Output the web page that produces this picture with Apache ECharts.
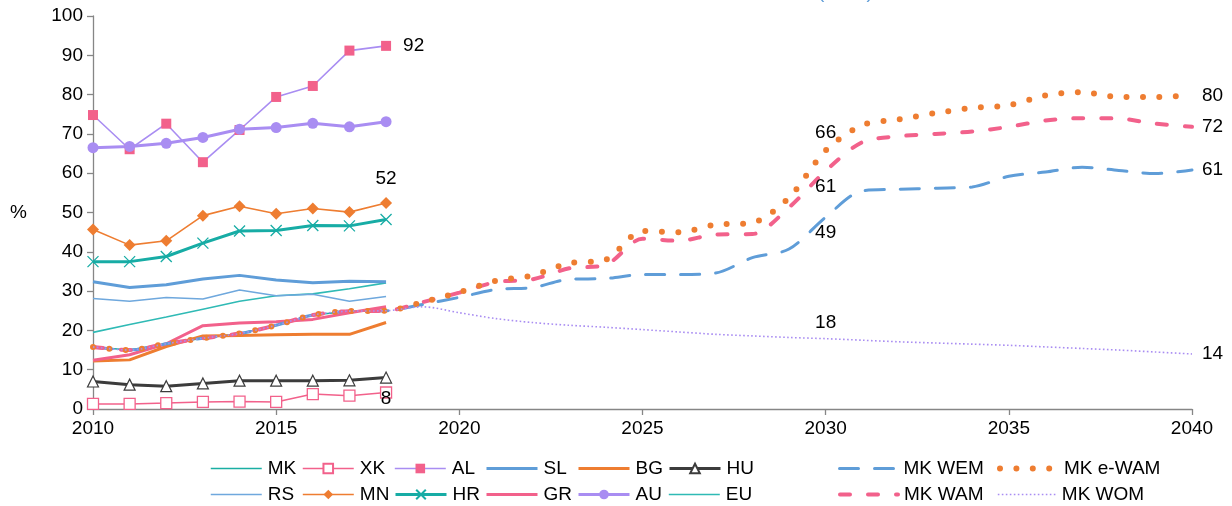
<!DOCTYPE html>
<html><head><meta charset="utf-8">
<script src="https://cdn.jsdelivr.net/npm/echarts@6/dist/echarts.min.js"></script>
<style>html,body{margin:0;padding:0;background:#fff}#c{width:1232px;height:506px}</style>
</head><body><div id="c"></div>
<script>
// ---------- data ----------
const histYears = [2010,2011,2012,2013,2014,2015,2016,2017,2018];
const projYears = [2010,2011,2012,2013,2014,2015,2016,2017,2018,2019,2020,2021,2022,2023,2024,2025,2026,2027,2028,2029,2030,2031,2032,2033,2034,2035,2036,2037,2038,2039,2040];

const MK = [15.8,15.0,16.6,18.0,19.2,21.3,23.9,24.9,25.0];
const XK = [1.3,1.3,1.5,1.8,1.9,1.8,3.8,3.4,4.2];
const AL = [74.8,66.1,72.6,62.8,71.0,79.4,82.2,91.2,92.4];
const SL = [32.4,30.9,31.6,33.1,34.0,32.8,32.1,32.5,32.4];
const BG = [12.2,12.5,15.9,18.6,18.7,18.9,19.0,19.0,22.0];
const HU = [7.0,6.2,5.8,6.5,7.2,7.2,7.2,7.3,8.0];
const RS = [28.1,27.4,28.4,28.0,30.3,28.8,29.2,27.4,28.6];
const MN = [45.7,41.7,42.8,49.2,51.6,49.7,51.0,50.1,52.4];
const HR = [37.5,37.5,38.8,42.2,45.3,45.4,46.7,46.6,48.2];
const GR = [12.4,13.8,16.6,21.2,21.9,22.2,22.8,24.5,26.0];
const AU = [66.5,66.8,67.6,69.1,71.2,71.6,72.7,71.8,73.1];
const EU = [19.5,21.5,23.4,25.4,27.4,28.8,29.3,30.6,32.1];

const MK_WEM  = [15.8,15.0,16.6,18.0,19.2,21.3,23.9,24.9,25.0,26.6,28.4,30.4,30.9,33.0,33.2,34.2,34.2,34.6,38.5,40.7,48.8,55.5,55.9,56.2,56.5,59.2,60.3,61.5,60.7,59.9,60.8];
const MK_WAM  = [15.8,15.0,16.6,18.0,19.2,21.3,23.9,24.9,25.0,27.2,29.6,32.3,33.0,35.8,36.7,43.3,42.8,44.4,44.5,51.3,60.6,67.9,69.4,70.0,70.6,71.8,73.4,74.0,73.9,72.6,71.8];
const MK_eWAM = [15.8,15.0,16.6,18.0,19.2,21.3,23.9,24.9,25.0,27.2,29.7,32.6,34.0,37.1,38.0,45.3,45.0,46.9,47.4,53.8,65.8,72.2,73.7,75.3,76.6,77.3,79.8,80.6,79.4,79.4,79.8];
const MK_WOM  = [15.8,15.0,16.6,18.0,19.2,21.3,23.9,24.9,25.0,26.0,24.5,23.0,22.0,21.3,20.8,20.2,19.6,19.0,18.6,18.2,17.9,17.5,17.1,16.8,16.5,16.2,15.8,15.4,15.0,14.5,14.0];

const xTickLabels = ['2010','2015','2020','2025','2030','2035','2040'];
const yTickLabels = ['0','10','20','30','40','50','60','70','80','90','100'];
const legendRowsNames = [
  ['MK','XK','AL','SL','BG','HU','MK WEM','MK e-WAM'],
  ['RS','MN','HR','GR','AU','EU','MK WAM','MK WOM']
];

// ---------- build ----------
const FONT = '"Liberation Sans", Arial, sans-serif';
const pairs = (xs, ys) => xs.map((x, i) => [x, ys[i]]);
const fmt = p => String(Math.round(p.value[1]));
function labelAt(data, year, position, distance, hidden) {
  const i = data.findIndex(d => d[0] === year);
  const item = {value: data[i], label: {show: true, position, distance, formatter: fmt,
    fontSize: 19, fontFamily: FONT, color: '#000'}};
  if (hidden) { item.symbol = 'circle'; item.symbolSize = 0; }
  data[i] = item;
  return data;
}

const PINK = '#f2618b', PURPLE = '#a98df2', ORANGE = '#ee7d31', BLUE = '#5f9dd8',
      TEAL = '#1aaea3', CYAN = '#2fbab5', DARK = '#3c3c3c';

const series = [];
function add(name, data, o) { series.push(Object.assign({name, type: 'line', data, animation: false, silent: true}, o)); }

add('MK', pairs(histYears, MK), {symbol: 'none', lineStyle: {color: TEAL, width: 1.5}, itemStyle: {color: TEAL}});
add('EU', pairs(histYears, EU), {symbol: 'none', lineStyle: {color: CYAN, width: 1.6}, itemStyle: {color: CYAN}});
add('RS', pairs(histYears, RS), {symbol: 'none', lineStyle: {color: '#6fa8dd', width: 1.5}, itemStyle: {color: '#6fa8dd'}});
add('SL', pairs(histYears, SL), {symbol: 'none', lineStyle: {color: BLUE, width: 3}, itemStyle: {color: BLUE}});
add('BG', pairs(histYears, BG), {symbol: 'none', lineStyle: {color: ORANGE, width: 3}, itemStyle: {color: ORANGE}});
add('GR', pairs(histYears, GR), {symbol: 'none', lineStyle: {color: PINK, width: 3}, itemStyle: {color: PINK}});
add('XK', pairs(histYears, XK), {symbol: 'rect', symbolSize: 11, lineStyle: {color: PINK, width: 1.5},
  itemStyle: {color: '#fff', borderColor: PINK, borderWidth: 1.3}});
add('HU', labelAt(pairs(histYears, HU), 2018, 'bottom', 6), {symbol: 'triangle', symbolSize: 11, lineStyle: {color: DARK, width: 3},
  itemStyle: {color: '#fff', borderColor: DARK, borderWidth: 1.2}});
add('HR', pairs(histYears, HR), {symbol: 'path://M0,0L10,10M10,0L0,10', symbolSize: 11, lineStyle: {color: '#17aca5', width: 3},
  itemStyle: {color: '#17aca5', borderColor: '#17aca5', borderWidth: 1.3}});
add('MN', labelAt(pairs(histYears, MN), 2018, 'top', 9), {symbol: 'diamond', symbolSize: 12, lineStyle: {color: ORANGE, width: 1.6},
  itemStyle: {color: ORANGE}});
add('AL', labelAt(pairs(histYears, AL), 2018, 'right', 12), {symbol: 'rect', symbolSize: 10, lineStyle: {color: PURPLE, width: 1.6},
  itemStyle: {color: PINK}});
add('AU', pairs(histYears, AU), {symbol: 'circle', symbolSize: 11, lineStyle: {color: PURPLE, width: 3}, itemStyle: {color: PURPLE}});

let wem = pairs(projYears, MK_WEM);
labelAt(wem, 2030, 'bottom', 6, true); labelAt(wem, 2040, 'right', 10, true);
add('MK WEM', wem, {symbol: 'none', smooth: 0.3, lineStyle: {color: BLUE, width: 3, type: [19, 16], cap: 'round'}, itemStyle: {color: BLUE}});
let wam = pairs(projYears, MK_WAM);
labelAt(wam, 2030, 'bottom', 6, true); labelAt(wam, 2040, 'right', 10, true);
add('MK WAM', wam, {symbol: 'none', smooth: 0.3, lineStyle: {color: PINK, width: 4, type: [10, 18], cap: 'round'}, itemStyle: {color: PINK}});
let ewam = pairs(projYears, MK_eWAM);
labelAt(ewam, 2030, 'top', 8, true); labelAt(ewam, 2040, 'right', 10, true);
add('MK e-WAM', ewam, {symbol: 'none', smooth: 0.3, lineStyle: {color: ORANGE, width: 6, type: [0, 16.4], cap: 'round'}, itemStyle: {color: ORANGE}});
let wom = pairs(projYears, MK_WOM);
labelAt(wom, 2030, 'top', 6, true); labelAt(wom, 2040, 'right', 10, true);
add('MK WOM', wom, {symbol: 'none', smooth: 0.3, lineStyle: {color: PURPLE, width: 1.6, type: [1.6, 2.4]}, itemStyle: {color: PURPLE}});

const noMarker = new Set(['MK','EU','RS','SL','BG','GR','MK WEM','MK WAM','MK e-WAM','MK WOM']);
const legendCols = [210, 302, 394, 485, 577, 668, 838, 997];
const legendTops = [459, 485];
const legends = [];
legendRowsNames.forEach((row, r) => row.forEach((name, c) => {
  const d = {name};
  if (noMarker.has(name)) d.itemStyle = {opacity: 0};
  const wide = c >= 6;
  legends.push({
    data: [d], left: legendCols[c], top: legendTops[r], orient: 'horizontal',
    padding: 0, itemGap: 0, itemWidth: wide ? 58 : 51, itemHeight: 12,
    selectedMode: false, textStyle: {fontSize: 19, fontFamily: FONT, color: '#000', padding: [0, 0, 0, 1]},
    lineStyle: {width: 'inherit'}
  });
}));

const option = {
  animation: false,
  backgroundColor: '#fff',
  grid: {left: 93, right: 40, top: 16, bottom: 97, containLabel: false},
  xAxis: {
    type: 'value', min: 2010, max: 2040, interval: 5,
    axisLine: {show: true, lineStyle: {color: '#868686', width: 1.3}},
    axisTick: {show: true, length: 6, lineStyle: {color: '#868686', width: 1.3}},
    splitLine: {show: false},
    axisLabel: {fontSize: 19, fontFamily: FONT, color: '#000', margin: 10,
      formatter: v => xTickLabels[xTickLabels.indexOf(String(v))] || String(v)}
  },
  yAxis: {
    type: 'value', min: 0, max: 100, interval: 10,
    axisLine: {show: true, lineStyle: {color: '#868686', width: 1.3}},
    axisTick: {show: true, length: 6, lineStyle: {color: '#868686', width: 1.3}},
    splitLine: {show: false},
    axisLabel: {fontSize: 19, fontFamily: FONT, color: '#000', margin: 10,
      formatter: v => yTickLabels[yTickLabels.indexOf(String(v))] || String(v)}
  },
  legend: legends,
  graphic: [
    {type: 'text', left: 10, top: 203, style: {text: '%', fontSize: 19, fontFamily: FONT, fill: '#000'}},
    {type: 'text', left: 818, top: -17, style: {text: '(2040)', fontSize: 19, fontFamily: FONT, fill: BLUE}}
  ],
  series
};
const chart = echarts.init(document.getElementById('c'));
chart.setOption(option);
</script>
</body></html>
